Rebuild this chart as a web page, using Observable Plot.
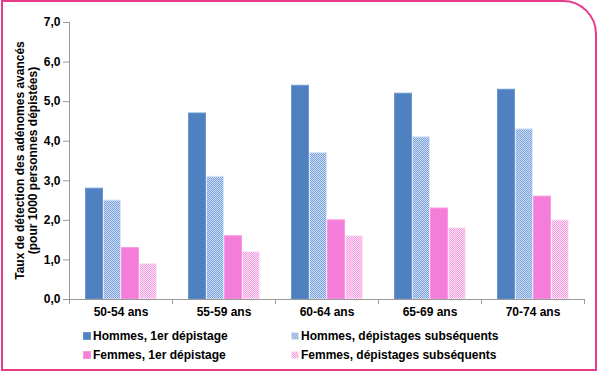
<!DOCTYPE html>
<html><head><meta charset="utf-8">
<script src="https://cdn.jsdelivr.net/npm/d3@7"></script>
<script src="https://cdn.jsdelivr.net/npm/@observablehq/plot@0.6"></script>
<style>
body{margin:0;background:#fff;font-family:"Liberation Sans",Arial,sans-serif;}
#wrap{position:relative;width:600px;height:375px;overflow:hidden;background:#fff;}
#border{position:absolute;left:1px;top:0;width:592px;height:367px;border:2px solid #e63b8a;border-top-right-radius:34px;pointer-events:none;}
#chart{position:absolute;left:0;top:0;}
#legend{position:absolute;left:83px;top:327px;width:500px;font:bold 12px "Liberation Sans",Arial,sans-serif;color:#000;}
.item{position:absolute;display:flex;align-items:center;white-space:nowrap;height:18px;}
.item svg{margin-right:2px;}
</style>
</head><body>
<svg width="0" height="0" style="position:absolute">
  <defs>
    <pattern id="hb" width="2" height="2" patternUnits="userSpaceOnUse">
      <rect width="2" height="2" fill="#cbdcf4"/>
      <rect x="0" y="0" width="1" height="1" fill="#7ea2dc"/>
      <rect x="1" y="1" width="1" height="1" fill="#7ea2dc"/>
    </pattern>
    <pattern id="pb" width="2" height="2" patternUnits="userSpaceOnUse">
      <rect width="2" height="2" fill="#fde0f5"/>
      <rect x="0" y="0" width="1" height="1" fill="#f5a0e2"/>
      <rect x="1" y="1" width="1" height="1" fill="#f5a0e2"/>
    </pattern>
  </defs>
</svg>
<div id="wrap">
  <div id="chart"></div>
  <div id="legend"></div>
  <div id="border"></div>
</div>
<script>
const ages = ["50-54 ans","55-59 ans","60-64 ans","65-69 ans","70-74 ans"];
const series = ["Hommes, 1er dépistage","Hommes, dépistages subséquents","Femmes, 1er dépistage","Femmes, dépistages subséquents"];
const hommes1 = [2.8,4.7,5.4,5.2,5.3];
const hommesS = [2.5,3.1,3.7,4.1,4.3];
const femmes1 = [1.3,1.6,2.0,2.3,2.6];
const femmesS = [0.9,1.2,1.6,1.8,2.0];
const yTicks = [0,1,2,3,4,5,6,7];
const yTitle = ["Taux de détection des adénomes avancés","(pour 1000 personnes dépistées)"];

const fills = ["#4f81c0","url(#hb)","#f47dd9","url(#pb)"];
const strokes = ["#6b96d0","#dbe6f7","#f79ae2","#fde8f7"];
const values = [hommes1, hommesS, femmes1, femmesS];

const rows = (si) => ages.map((a,i)=>({age:a, serie:series[si], value:values[si][i]}));

const chart = Plot.plot({
  width:600, height:325,
  marginTop:22, marginBottom:26, marginLeft:67, marginRight:15,
  style:{fontFamily:"'Liberation Sans', Arial, sans-serif", fontSize:"12px", fontWeight:"bold", color:"#000", background:"transparent"},
  fx:{domain:ages, padding:0, label:null, axis:"bottom", tickSize:0, tickPadding:8},
  x:{domain:series, paddingInner:0, paddingOuter:0.74, axis:null},
  y:{domain:[0,7], ticks:yTicks, tickFormat:d=>d.toFixed(1).replace(".",","), tickSize:6, tickPadding:3, label:null},
  marks: series.map((s,si)=>Plot.barY(rows(si),{fx:"age", x:"serie", y:"value", fill:fills[si], stroke:strokes[si], strokeWidth:1, insetLeft:0.5, insetRight:0.5}))
});
document.getElementById("chart").appendChild(chart);

const svg = d3.select(chart);
svg.selectAll("[aria-label='y-axis tick'] path, [aria-label='y-axis'] .tick line").attr("stroke","#999");
const fx = chart.scale("fx"), y = chart.scale("y");
const x0 = fx.apply(ages[0]), bw = fx.bandwidth;
const xEnd = fx.apply(ages[ages.length-1]) + bw;
const y0 = y.apply(0), y7 = y.apply(7);
const g = svg.append("g").attr("stroke","#999").attr("stroke-width",1);
g.append("line").attr("x1",x0+0.5).attr("x2",x0+0.5).attr("y1",y7).attr("y2",y0);
g.append("line").attr("x1",x0).attr("x2",xEnd).attr("y1",y0+0.5).attr("y2",y0+0.5);
ages.forEach(a=>{ const xx=fx.apply(a); g.append("line").attr("x1",xx+0.5).attr("x2",xx+0.5).attr("y1",y0).attr("y2",y0+5); });
g.append("line").attr("x1",xEnd+0.5).attr("x2",xEnd+0.5).attr("y1",y0).attr("y2",y0+5);

const yc = (y0+y7)/2;
const t = svg.append("text").attr("transform",`translate(20,${yc}) rotate(-90)`).attr("text-anchor","middle")
  .attr("font-family","'Liberation Sans', Arial, sans-serif").attr("font-size",12).attr("font-weight","bold").attr("fill","#000");
yTitle.forEach((line,i)=>t.append("tspan").attr("x",0).attr("y", i*13).attr("dy","0.35em").text(line));

const legend = document.getElementById("legend");
const pos = [[0,0],[208,0],[0,19],[208,19]];
series.forEach((s,i)=>{
  const d = document.createElement("div");
  d.className="item";
  d.style.left = pos[i][0]+"px"; d.style.top = pos[i][1]+"px";
  d.innerHTML = `<svg width="8" height="8"><rect x="0.5" y="0.5" width="7" height="7" fill="${fills[i]}" stroke="${strokes[i]}"/></svg><span>${s}</span>`;
  legend.appendChild(d);
});
</script>
</body></html>
